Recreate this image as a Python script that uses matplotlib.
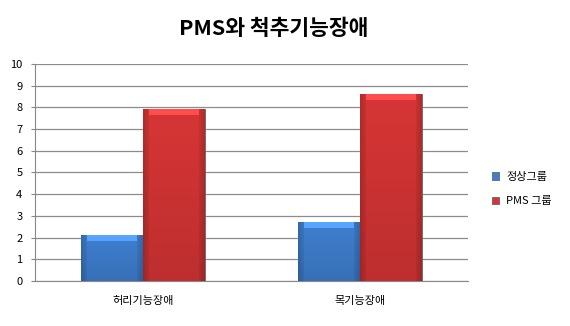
import numpy as np
import matplotlib
matplotlib.use('Agg')
import matplotlib.pyplot as plt
from matplotlib.patches import Patch

plt.rcParams['font.family'] = ['Noto Sans CJK KR', 'DejaVu Sans']

categories = ['허리기능장애', '목기능장애']
series_names = ['정상그룹', 'PMS 그룹']
normal_vals = [2.1, 2.7]
pms_vals = [7.9, 8.6]
colors = ['#3f7fd0', '#d73535']

fig = plt.figure(figsize=(5.7, 3.26), dpi=100)
ax = fig.add_axes([0.0614, 0.138, 0.76, 0.666])

x = np.arange(len(categories))
w = 0.286


def shaded_bars(xs, vals, color, label):
    bars = ax.bar(xs, vals, width=w, color=color, edgecolor='#666666',
                  linewidth=0.6, label=label, zorder=3)
    base = np.array(matplotlib.colors.to_rgb(color))
    for b in bars:
        x0, y0 = b.get_x(), b.get_y()
        bw, bh = b.get_width(), b.get_height()
        # pixel-ish grid for the bevel: edges darker, top lighter
        nx, ny = 62, max(int(bh * 22), 10)
        u = (np.arange(nx) + 0.5) / nx
        v = (np.arange(ny) + 0.5) / ny  # 0 = top
        ex = np.minimum(u, 1 - u) * nx
        ey_top = v * ny
        f = np.ones((ny, nx))
        f[:, :] = 1.0 - 0.12 * v[:, None]
        edge = ex[None, :] < 6
        f = np.where(edge, f * (0.82 + 0.02 * ex[None, :]), f)
        top = ey_top[:, None] < 6
        f = np.where(top & ~edge, f * 1.18, f)
        rgb = np.clip(base[None, None, :] * f[:, :, None] + 0.06 * (f[:, :, None] > 1.05), 0, 1)
        im = ax.imshow(rgb, extent=[x0, x0 + bw, y0, y0 + bh], origin='upper',
                       aspect='auto', zorder=3.5, interpolation='bilinear')
        im.set_clip_path(b)
    return bars


shaded_bars(x - w / 2, normal_vals, colors[0], series_names[0])
shaded_bars(x + w / 2, pms_vals, colors[1], series_names[1])

ax.set_xlim(-0.5, 1.5)
ax.set_ylim(0, 10)
ax.set_yticks(range(0, 11))
ax.set_xticks(x)
ax.set_xticklabels(categories, fontsize=8)
ax.tick_params(axis='y', labelsize=8, length=3, color='#888888', pad=6)
ax.tick_params(axis='x', length=0, pad=11)
ax.yaxis.grid(True, color='#8c8c8c', linewidth=0.9, zorder=0)
for s in ['top', 'right']:
    ax.spines[s].set_visible(False)
ax.spines['left'].set_color('#888888')
ax.spines['bottom'].set_color('#888888')

fig.suptitle('PMS와 척추기능장애', x=0.48, y=0.945, fontsize=15.5, fontweight='bold')

handles = [Patch(facecolor=c, edgecolor='#555555', linewidth=0.5) for c in colors]
fig.legend(handles, series_names, loc='center left', bbox_to_anchor=(0.845, 0.42),
           frameon=False, fontsize=8, handlelength=0.7, handleheight=0.7,
           labelspacing=1.3, handletextpad=0.6)

fig.savefig('out.png', dpi=100)
